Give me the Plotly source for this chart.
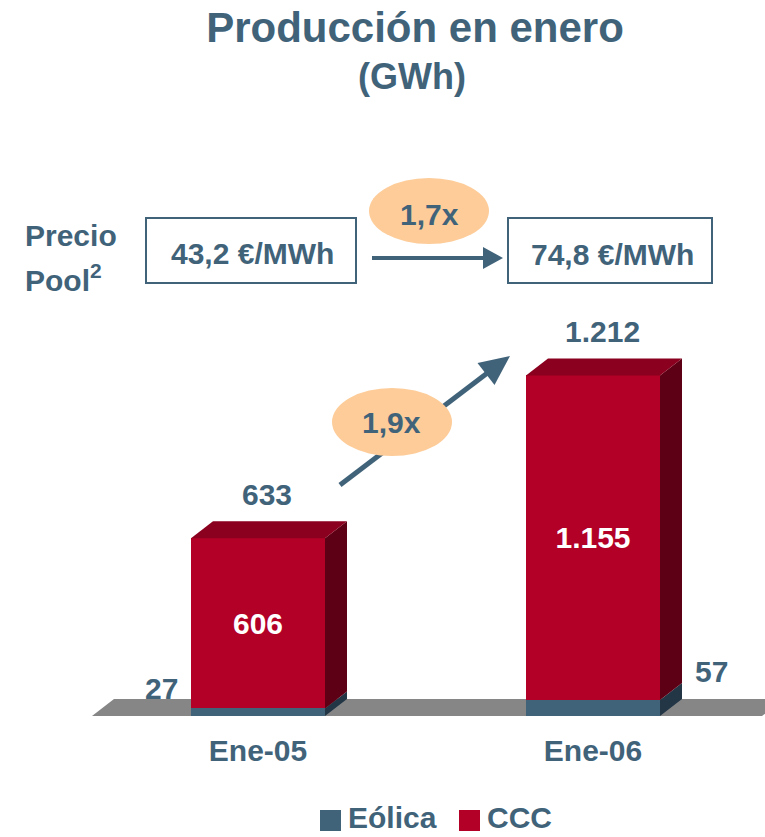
import plotly.graph_objects as go

# ---------------- data ----------------
categories = ["Ene-05", "Ene-06"]
series_names = ["Eólica", "CCC"]
eolica = [27, 57]
ccc = [606, 1155]
totals = [633, 1212]
precio_pool = [43.2, 74.8]          # €/MWh
ratio_precio = "1,7x"
ratio_produccion = "1,9x"

# ---------------- layout constants ----------------
W, H = 765, 837
BASE_PX = 716            # pixel row of value 0
PX_PER_UNIT = 0.281      # vertical scale
X0_PX = 258              # pixel column of first category
X_STEP_PX = 335          # pixels between categories

SLATE = "#41637A"
RED = "#B30027"
RED_TOP = "#8A001E"
RED_SIDE = "#5E0015"
SLATE_SIDE = "#223646"
FLOOR = "#868686"
PEACH = "#FDCC99"
FONT = "Liberation Sans, Arial, sans-serif"


def fmt_int(v):
    return f"{v:,}".replace(",", ".")


def fmt_dec(v):
    return f"{v:.1f}".replace(".", ",")


def px(xp):
    return xp / W


def py(yp):
    return (BASE_PX - yp) / BASE_PX


def font(size, color=SLATE):
    return dict(family=FONT, size=size, color=color, weight="bold")


xpos = list(range(len(categories)))
bar_w = 134 / X_STEP_PX
dx = 22 / X_STEP_PX
dy = 17 / PX_PER_UNIT
series_colors = [SLATE, RED]

fig = go.Figure()

fig.add_bar(x=xpos, y=eolica, name=series_names[0], marker=dict(color=series_colors[0], line=dict(width=0)),
            width=bar_w, showlegend=False, hoverinfo="skip")
fig.add_bar(x=xpos, y=ccc, name=series_names[1], marker=dict(color=series_colors[1], line=dict(width=0)),
            width=bar_w, showlegend=False, hoverinfo="skip",
            text=[fmt_int(v) for v in ccc], textposition="inside", insidetextanchor="middle",
            textfont=font(30, "white"), textangle=0)

shapes = []
# floor
xl = (92 - X0_PX) / X_STEP_PX
xr = (762 - X0_PX) / X_STEP_PX
shapes.append(dict(type="path", xref="x", yref="y", layer="below",
                   path=f"M{xl},0 L{xl+dx},{dy} L{xr+dx},{dy} L{xr},0 Z",
                   fillcolor=FLOOR, line=dict(width=0)))

# 3D faces
for i, xi in enumerate(xpos):
    left = xi - bar_w / 2
    right = xi + bar_w / 2
    segs = [(0, eolica[i], SLATE_SIDE), (eolica[i], eolica[i] + ccc[i], RED_SIDE)]
    for y0, y1, col in segs:
        shapes.append(dict(type="path", xref="x", yref="y",
                           path=f"M{right},{y0} L{right+dx},{y0+dy} L{right+dx},{y1+dy} L{right},{y1} Z",
                           fillcolor=col, line=dict(width=0)))
    top = eolica[i] + ccc[i]
    shapes.append(dict(type="path", xref="x", yref="y",
                       path=f"M{left},{top} L{left+dx},{top+dy} L{right+dx},{top+dy} L{right},{top} Z",
                       fillcolor=RED_TOP, line=dict(width=0)))

# price boxes
for x0, x1 in [(146, 356), (508, 712)]:
    shapes.append(dict(type="rect", xref="paper", yref="paper",
                       x0=px(x0), x1=px(x1), y0=py(283), y1=py(218),
                       line=dict(color=SLATE, width=2), fillcolor="rgba(0,0,0,0)"))

# horizontal arrow
shapes.append(dict(type="line", xref="paper", yref="paper",
                   x0=px(372), x1=px(487), y0=py(258), y1=py(258),
                   line=dict(color=SLATE, width=4)))
shapes.append(dict(type="path", xref="paper", yref="paper",
                   path=f"M{px(483)},{py(247)} L{px(503)},{py(258)} L{px(483)},{py(269)} Z",
                   fillcolor=SLATE, line=dict(width=0)))

# diagonal arrow
shapes.append(dict(type="line", xref="paper", yref="paper",
                   x0=px(340), x1=px(490), y0=py(485), y1=py(371),
                   line=dict(color=SLATE, width=5)))
shapes.append(dict(type="path", xref="paper", yref="paper",
                   path=f"M{px(477.5)},{py(363)} L{px(510)},{py(356)} L{px(494.5)},{py(385)} Z",
                   fillcolor=SLATE, line=dict(width=0)))

# ellipses
for cx, cy, rx, ry in [(429, 211, 60, 33), (392, 422, 60, 34)]:
    shapes.append(dict(type="circle", xref="paper", yref="paper",
                       x0=px(cx - rx), x1=px(cx + rx), y0=py(cy + ry), y1=py(cy - ry),
                       fillcolor=PEACH, line=dict(width=0)))

annotations = []
# subtitle
annotations.append(dict(text="(GWh)", xref="paper", yref="paper", x=px(412), y=py(76),
                        showarrow=False, xanchor="center", yanchor="middle", font=font(36)))
# Precio Pool
annotations.append(dict(text="Precio", xref="paper", yref="paper", x=px(23), y=py(235),
                        showarrow=False, xanchor="left", yanchor="middle", font=font(30)))
annotations.append(dict(text="Pool<sup>2</sup>", xref="paper", yref="paper", x=px(23), y=py(278),
                        showarrow=False, xanchor="left", yanchor="middle", font=font(30)))
# price values
for v, cx, cy in zip(precio_pool, [252, 612], [253, 254]):
    annotations.append(dict(text=f"{fmt_dec(v)} €/MWh", xref="paper", yref="paper", x=px(cx), y=py(cy),
                            showarrow=False, xanchor="center", yanchor="middle", font=font(30)))
# ratios
annotations.append(dict(text=ratio_precio, xref="paper", yref="paper", x=px(429), y=py(214),
                        showarrow=False, xanchor="center", yanchor="middle", font=font(30)))
annotations.append(dict(text=ratio_produccion, xref="paper", yref="paper", x=px(392), y=py(423),
                        showarrow=False, xanchor="center", yanchor="middle", font=font(30)))
# totals
for xi, t in zip(xpos, totals):
    annotations.append(dict(text=fmt_int(t), x=xi, y=t, xref="x", yref="y", xshift=9, yshift=44,
                            showarrow=False, xanchor="center", yanchor="middle", font=font(30)))
# Eólica labels
annotations.append(dict(text=fmt_int(eolica[0]), x=xpos[0] - bar_w / 2, y=0, xref="x", yref="y",
                        xshift=-11, yshift=28, showarrow=False, xanchor="right", yanchor="middle",
                        font=font(30)))
annotations.append(dict(text=fmt_int(eolica[1]), x=xpos[1] + bar_w / 2, y=0, xref="x", yref="y",
                        xshift=33, yshift=45, showarrow=False, xanchor="left", yanchor="middle",
                        font=font(30)))

# legend (drawn as swatches + labels)
for name, col, sx, tx in zip(series_names, series_colors, [320, 459], [348, 487]):
    shapes.append(dict(type="rect", xref="paper", yref="paper",
                       x0=px(sx), x1=px(sx + 21), y0=py(831), y1=py(810),
                       fillcolor=col, line=dict(width=0)))
    annotations.append(dict(text=name, xref="paper", yref="paper", x=px(tx), y=py(817),
                            showarrow=False, xanchor="left", yanchor="middle", font=font(30),
                            borderpad=0, borderwidth=0))

fig.update_layout(
    width=W, height=H,
    margin=dict(l=0, r=0, t=0, b=H - BASE_PX, pad=0),
    paper_bgcolor="white", plot_bgcolor="white",
    barmode="stack", bargap=0,
    title=dict(text="Producción en enero", x=px(415), xref="container", xanchor="center",
               y=1 - 27 / H, yref="container", yanchor="middle", font=font(42)),
    xaxis=dict(range=[-X0_PX / X_STEP_PX, (W - X0_PX) / X_STEP_PX], tickvals=xpos, ticktext=categories,
               showgrid=False, zeroline=False, showline=False, ticks="", tickfont=font(30),
               ticklabelstandoff=14, fixedrange=True),
    yaxis=dict(range=[0, BASE_PX / PX_PER_UNIT], visible=False, fixedrange=True),
    showlegend=False,
    shapes=shapes, annotations=annotations,
)

fig.write_html("out.html")
